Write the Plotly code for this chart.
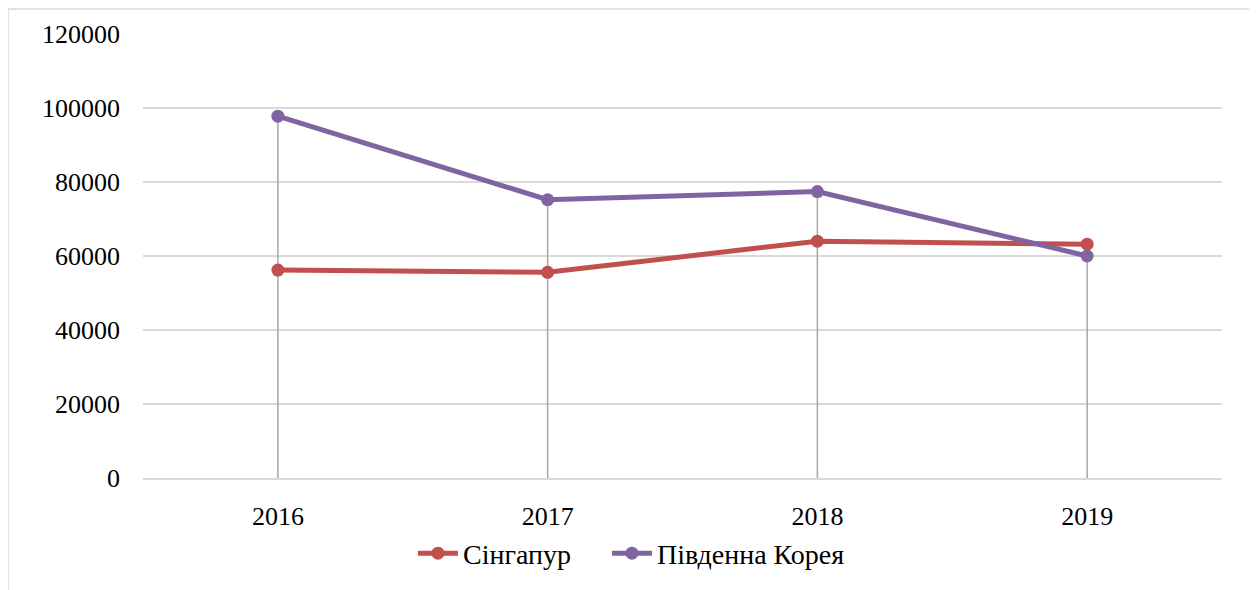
import plotly.graph_objects as go

years = ["2016", "2017", "2018", "2019"]
singapore = [56200, 55600, 64000, 63200]
korea = [97800, 75200, 77400, 60000]
series_names = ["Сінгапур", "Південна Корея"]
y_ticks = [0, 20000, 40000, 60000, 80000, 100000, 120000]

FONT = "Liberation Serif, Times New Roman, serif"

fig = go.Figure()

# drop lines from highest point to axis
drop_x, drop_y = [], []
for yr, a, b in zip(years, singapore, korea):
    drop_x += [yr, yr, None]
    drop_y += [0, max(a, b), None]
fig.add_trace(go.Scatter(x=drop_x, y=drop_y, mode="lines",
                         line=dict(color="#A6A6A6", width=1.5),
                         showlegend=False, hoverinfo="skip"))

fig.add_trace(go.Scatter(x=years, y=singapore, name=series_names[0], mode="lines+markers",
                         line=dict(color="#C0504D", width=5),
                         marker=dict(size=13, color="#C0504D"), legend="legend"))
fig.add_trace(go.Scatter(x=years, y=korea, name=series_names[1], mode="lines+markers",
                         line=dict(color="#8064A2", width=5),
                         marker=dict(size=13, color="#8064A2"), legend="legend2"))

leg_common = dict(orientation="h", xanchor="left", y=-0.17, yanchor="middle",
                  itemwidth=40, font=dict(family=FONT, size=28),
                  bgcolor="rgba(0,0,0,0)")

fig.update_layout(
    width=1257, height=590,
    margin=dict(l=135, r=43, t=26, b=120, autoexpand=False),
    paper_bgcolor="white", plot_bgcolor="white",
    font=dict(family=FONT, size=26, color="#000000"),
    legend=dict(x=0.2502, **leg_common),
    legend2=dict(x=0.4300, **leg_common),
    xaxis=dict(type="category", range=[-0.5, 3.5], showgrid=False,
               showline=True, linecolor="#D9D9D9", linewidth=1.5,
               ticks="", ticklabelstandoff=14, tickfont=dict(family=FONT, size=26)),
    yaxis=dict(range=[0, 120000], tickvals=y_ticks, ticktext=[str(v) for v in y_ticks],
               showgrid=True, gridcolor="#D9D9D9", gridwidth=1.5, zeroline=False,
               showline=False, ticks="", ticklabelstandoff=22,
               tickfont=dict(family=FONT, size=26)),
    shapes=[dict(type="rect", xref="paper", yref="paper",
                 x0=-0.1251, x1=1.0278, y0=-0.4, y1=1.0563,
                 line=dict(color="#D9D9D9", width=1.5), fillcolor="rgba(0,0,0,0)",
                 layer="below")],
)

fig.write_html("out.html")
